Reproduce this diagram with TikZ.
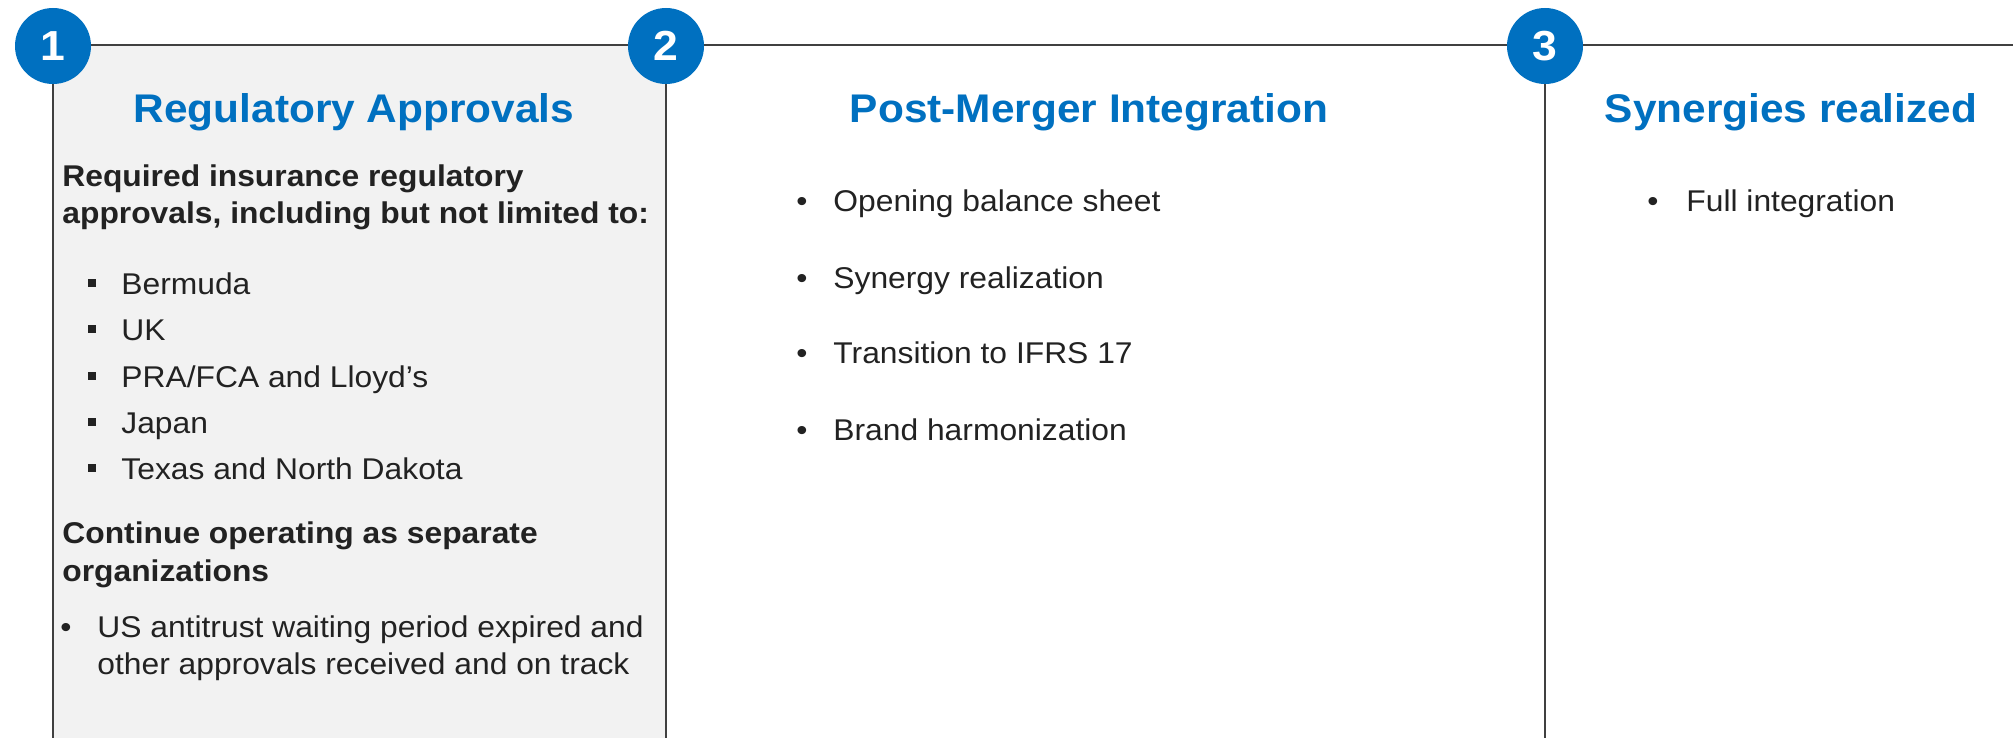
\documentclass[tikz,border=0pt]{standalone}
\usepackage{fontspec}
\setmainfont{Liberation Sans}[FakeStretch=1.06]
\definecolor{stepblue}{HTML}{0070C0}
\definecolor{rulegray}{HTML}{404040}
\definecolor{panelgray}{HTML}{F2F2F2}
\definecolor{bodyink}{HTML}{222222}
\tikzset{
  rule/.style={draw=rulegray, line width=1.3pt},
  stepdisc/.style={circle, fill=stepblue, minimum size=38pt, inner sep=0pt,
    text=white, font=\fontsize{21pt}{24pt}\selectfont\bfseries},
  heading/.style={anchor=base, inner sep=0pt, text=stepblue,
    font=\fontsize{20pt}{24pt}\selectfont\bfseries},
  lead/.style={anchor=base west, inner sep=0pt, text=bodyink,
    font=\fontsize{15pt}{18pt}\selectfont\bfseries},
  item/.style={anchor=base west, inner sep=0pt, text=bodyink,
    font=\fontsize{15pt}{18pt}\selectfont},
  sqbullet/.style={rectangle, fill=bodyink, minimum size=4.4pt, inner sep=0pt},
}
\begin{document}
\begin{tikzpicture}[x=0.5pt, y=-0.5pt]
  \useasboundingbox (0,0) rectangle (2013,738);

  % stage markers and frame corners
  \coordinate (s1) at (53,45);
  \coordinate (s2) at (666,45);
  \coordinate (s3) at (1545,45);
  \coordinate (edge) at (2013,45);
  \coordinate (f1) at (53,738);
  \coordinate (f2) at (666,738);
  \coordinate (f3) at (1545,738);

  % shaded first panel
  \fill[panelgray] (s1) rectangle (f2);

  % timeline rule and panel dividers
  \draw[rule] (s1) -- (s2) -- (s3) -- (edge);
  \draw[rule] (s1) -- (f1);
  \draw[rule] (s2) -- (f2);
  \draw[rule] (s3) -- (f3);

  % numbered discs
  \node[stepdisc] (n1) at (53,46) {1};
  \node[stepdisc] (n2) at (666,46) {2};
  \node[stepdisc] (n3) at (1545,46) {3};

  % panel 1
  \node[heading] (h1) at (354,123) {Regulatory Approvals};
  \node[lead] (l1a) at (62,186) {Required insurance regulatory};
  \node[lead] (l1b) at (62,223) {approvals, including but not limited to:};

  \node[sqbullet] (q1) at (92,283) {};
  \node[item] (i1) at (121,294) {Bermuda};
  \node[sqbullet] (q2) at (92,329) {};
  \node[item] (i2) at (121,340) {UK};
  \node[sqbullet] (q3) at (92,376) {};
  \node[item] (i3) at (121,387) {PRA/FCA and Lloyd’s};
  \node[sqbullet] (q4) at (92,422) {};
  \node[item] (i4) at (121,433) {Japan};
  \node[sqbullet] (q5) at (92,468) {};
  \node[item] (i5) at (121,479) {Texas and North Dakota};

  \node[lead] (l2a) at (62,543) {Continue operating as separate};
  \node[lead] (l2b) at (62,581) {organizations};
  \node[item] (d1) at (60,637) {•};
  \node[item] (u1a) at (97,637) {US antitrust waiting period expired and};
  \node[item] (u1b) at (97,674) {other approvals received and on track};

  % panel 2
  \node[heading] (h2) at (1089,123) {Post-Merger Integration};
  \node[item] (d2a) at (796,211) {•};
  \node[item] (p2a) at (833,211) {Opening balance sheet};
  \node[item] (d2b) at (796,288) {•};
  \node[item] (p2b) at (833,288) {Synergy realization};
  \node[item] (d2c) at (796,363) {•};
  \node[item] (p2c) at (833,363) {Transition to IFRS 17};
  \node[item] (d2d) at (796,440) {•};
  \node[item] (p2d) at (833,440) {Brand harmonization};

  % panel 3
  \node[heading] (h3) at (1791,123) {Synergies realized};
  \node[item] (d3a) at (1647,211) {•};
  \node[item] (p3a) at (1686,211) {Full integration};
\end{tikzpicture}
\end{document}
